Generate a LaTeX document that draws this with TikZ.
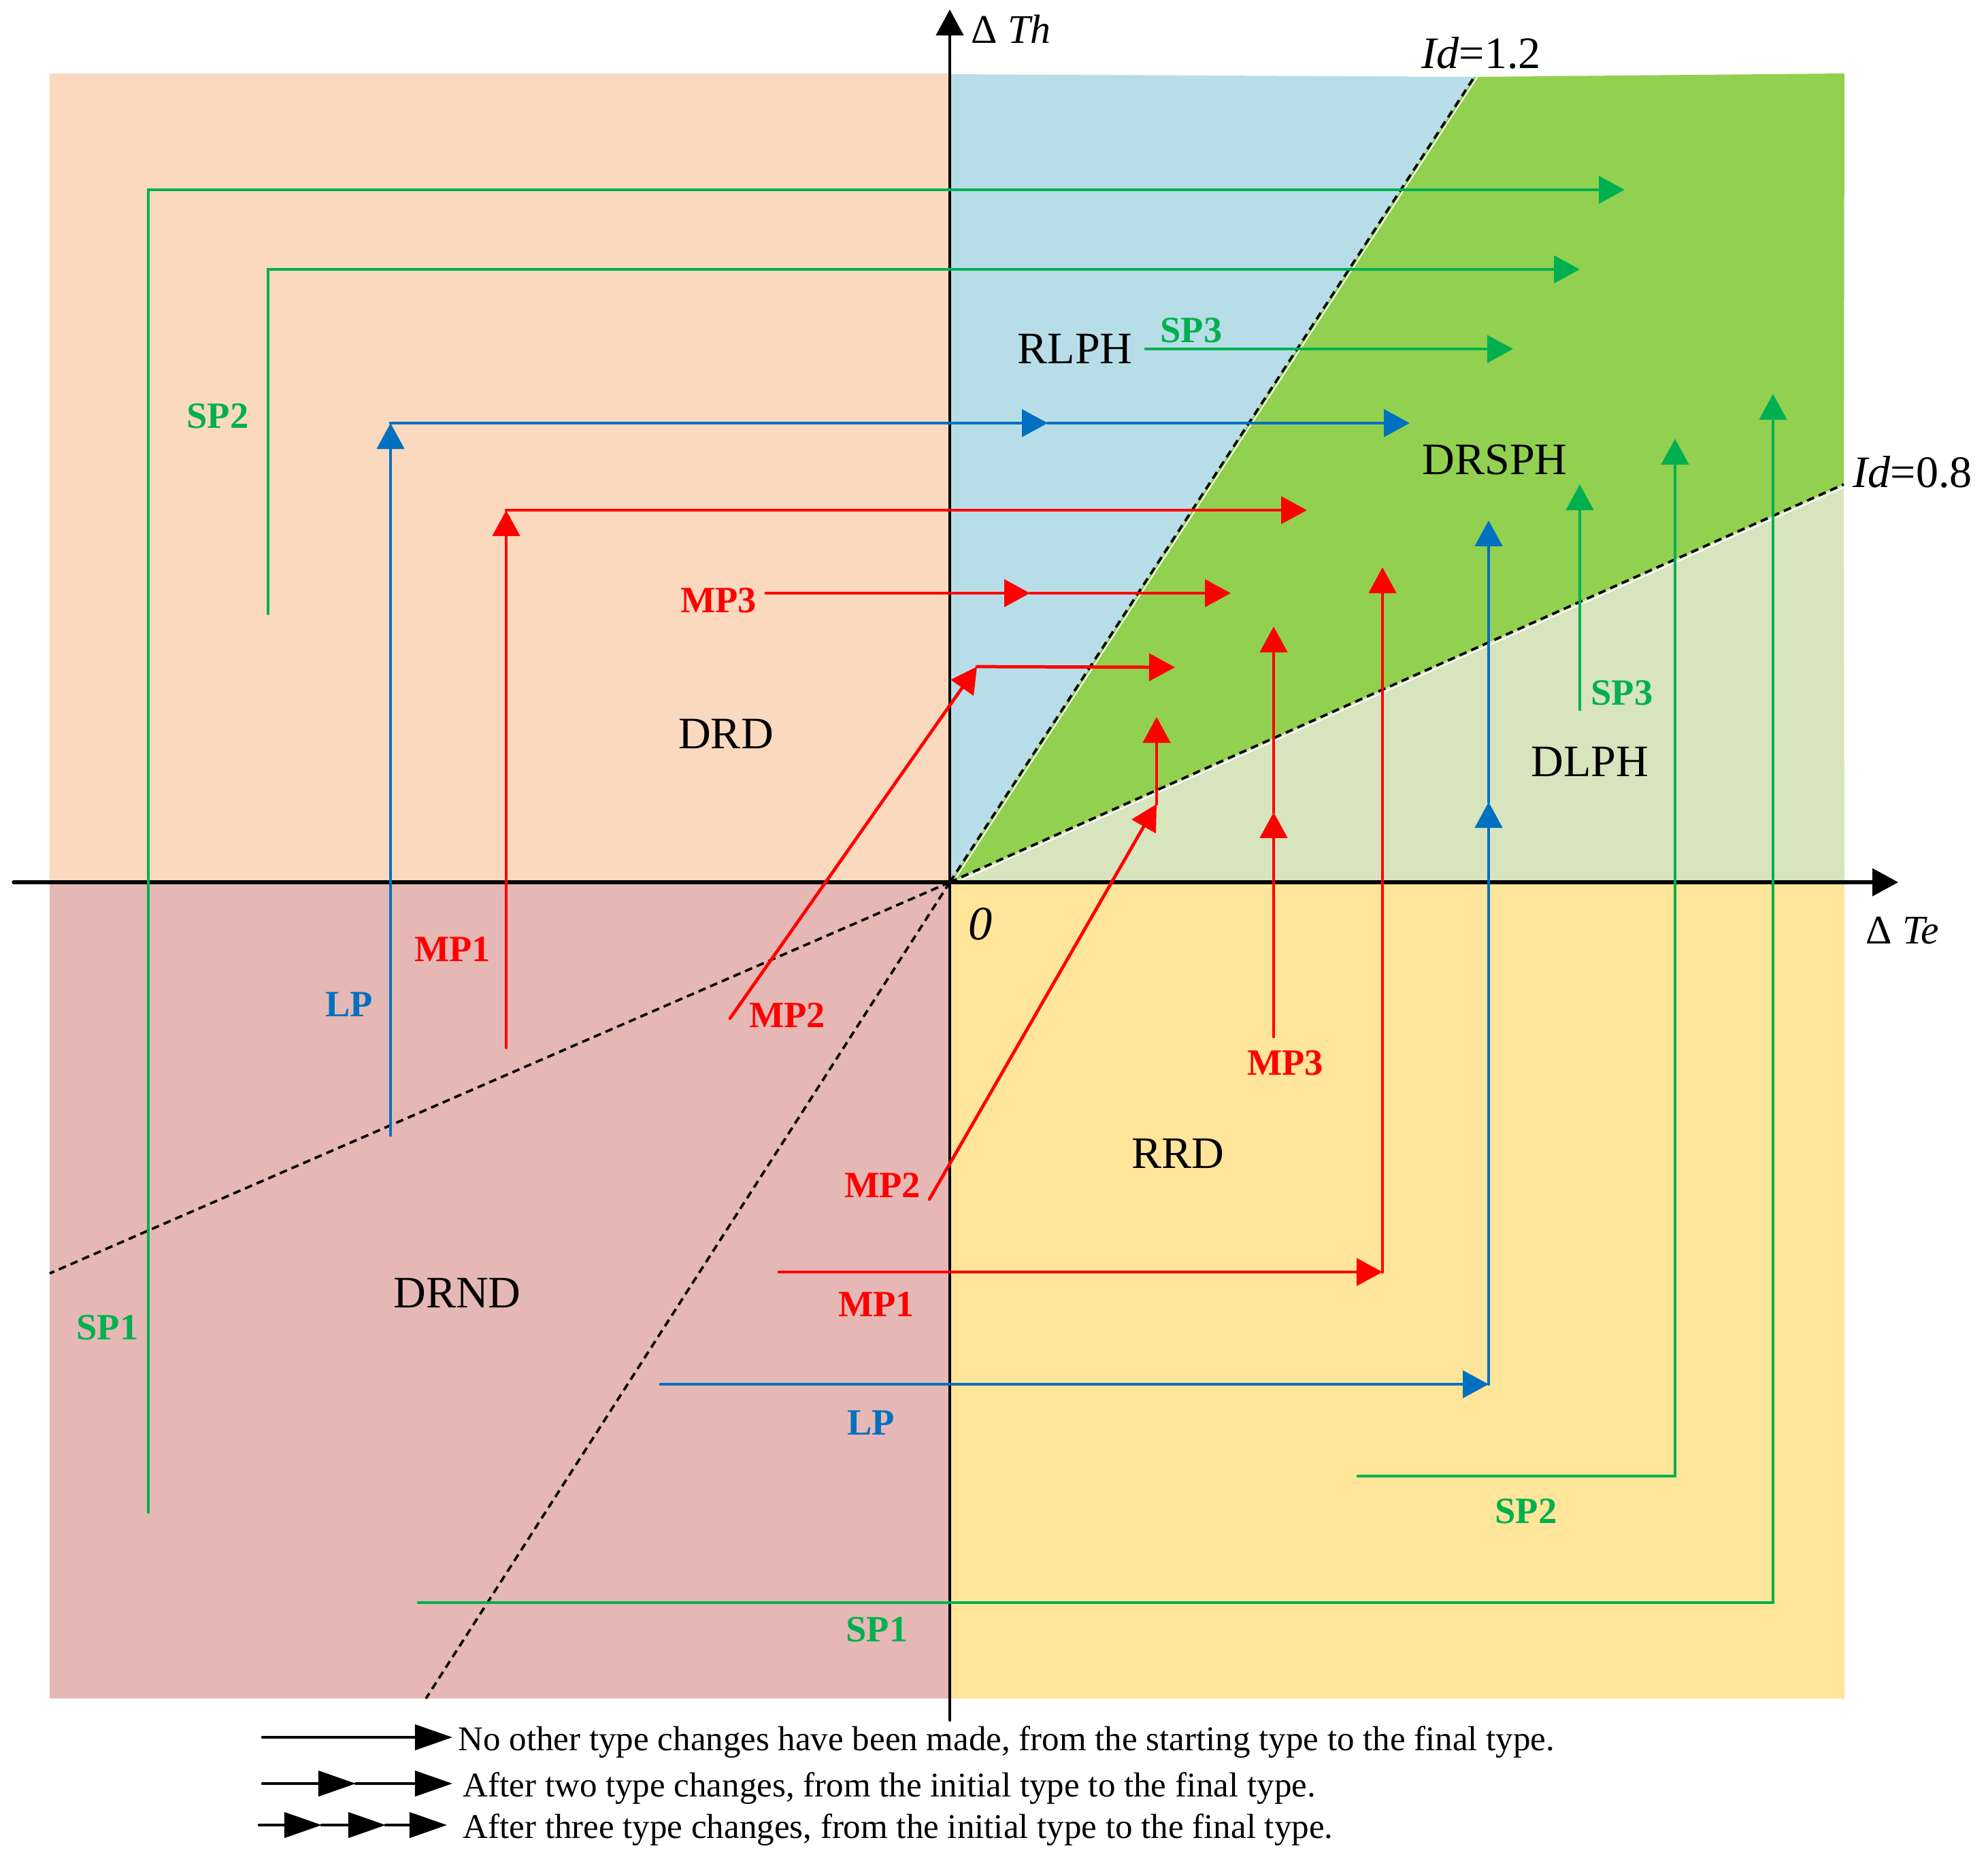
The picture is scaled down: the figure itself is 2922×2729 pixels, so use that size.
\documentclass[tikz,border=0pt]{standalone}
\usepackage{fontspec}
\setmainfont{Liberation Serif}
\usetikzlibrary{arrows.meta}

\definecolor{drdcol}{RGB}{250,217,190}
\definecolor{drndcol}{RGB}{229,184,181}
\definecolor{rrdcol}{RGB}{254,229,153}
\definecolor{rlphcol}{RGB}{183,222,232}
\definecolor{drsphcol}{RGB}{146,208,80}
\definecolor{dlphcol}{RGB}{216,228,189}
\definecolor{spcol}{RGB}{0,176,80}
\definecolor{lpcol}{RGB}{0,112,192}
\definecolor{mpcol}{RGB}{255,0,0}

\begin{document}
\begin{tikzpicture}[x=0.01cm, y=-0.01cm, line cap=round,
    >={Triangle[length=3.8mm, width=4mm]},
    sparrow/.style={draw=spcol, line width=1.35pt, ->},
    lparrow/.style={draw=lpcol, line width=1.35pt, ->},
    mparrow/.style={draw=mpcol, line width=1.35pt, ->},
    idline/.style={dash pattern=on 3.2pt off 2.1pt, line width=1.05pt, line cap=butt},
    region/.style={font=\fontsize{18.8}{22}\selectfont, inner sep=0pt},
    tag/.style={font=\fontsize{15.5}{18}\selectfont\bfseries, inner sep=0pt},
    legarrow/.style={line width=1.3pt, -{Triangle[length=5.5mm, width=3.7mm]}}]
    \useasboundingbox (0,0) rectangle (2922,2729);
    \coordinate (O) at (1396,1297);

    % quadrants
    \fill[drdcol] (73,108) rectangle (O);
    \fill[drndcol] (73,2497) rectangle (O);
    \fill[rrdcol] (2711,2497) rectangle (O);
    \fill[rlphcol] (O) -- (1396,109) -- (2167,113) -- cycle;
    \fill[drsphcol] (O) -- (2167,113) -- (2711,108) -- (2710,712) -- cycle;
    \fill[dlphcol] (O) -- (2710,712) -- (2711,1297) -- cycle;

    % Id lines
    \draw[white, line width=0.5pt] (1400,1298) -- (2171,114);
    \draw[white, line width=0.5pt] (1397,1301) -- (2711,716);
    \draw[idline] (O) -- (2167,113);
    \draw[idline] (O) -- (626,2497);
    \draw[idline] (O) -- (2710,712);
    \draw[idline] (O) -- (73,1872);

    % axes
    \draw[->, line width=1.5pt] (20,1297) -- (2790,1297);
    \draw[->, line width=1.2pt] (1396,2529) -- (1396,14);
    \node[font=\fontsize{17}{20}\selectfont, anchor=base west, inner sep=0pt] (th) at (1427,63) {Δ \textit{Th}};
    \node[font=\fontsize{17}{20}\selectfont, anchor=base west, inner sep=0pt] (te) at (2742,1387) {Δ \textit{Te}};
    \node[font=\fontsize{20}{24}\selectfont, inner sep=0pt] (zero) at (1441,1358) {\textit{0}};
    \node[region, anchor=base west] (id12) at (2089,100) {\textit{Id}=1.2};
    \node[region, anchor=base west] (id08) at (2723,716) {\textit{Id}=0.8};

    % regions
    \node[region] (drd) at (1067,1079) {DRD};
    \node[region] (rlph) at (1580,513) {RLPH};
    \node[region] (drsph) at (2197,676) {DRSPH};
    \node[region] (dlph) at (2337,1120) {DLPH};
    \node[region] (rrd) at (1731,1696) {RRD};
    \node[region] (drnd) at (672,1901) {DRND};

    % SP paths
    \draw[sparrow] (218,2223) -- (218,279) -- (2388,279);
    \draw[sparrow] (394,902) -- (394,396) -- (2322,396);
    \draw[sparrow] (1684,513) -- (2224,513);
    \draw[sparrow] (615,2356) -- (2606,2356) -- (2606,579);
    \draw[sparrow] (1996,2170) -- (2462,2170) -- (2462,645);
    \draw[sparrow] (2322,1043) -- (2322,712);

    % LP paths
    \draw[lparrow] (574,1669) -- (574,622);
    \draw[lparrow] (574,622) -- (1540,622);
    \draw[lparrow] (1540,622) -- (2072,622);
    \draw[lparrow] (971,2035) -- (2188,2035);
    \draw[lparrow] (2188,2035) -- (2188,1179);
    \draw[lparrow] (2188,1179) -- (2188,765);

    % MP paths
    \draw[mparrow] (744,1540) -- (744,750);
    \draw[mparrow] (744,750) -- (1921,750);
    \draw[mparrow] (1126,872) -- (1514,872);
    \draw[mparrow] (1514,872) -- (1809,872);
    \draw[mparrow] (1073,1497) -- (1436,980);
    \draw[mparrow] (1436,980) -- (1727,981);
    \draw[mparrow] (1366,1763) -- (1700,1182);
    \draw[mparrow] (1700,1182) -- (1700,1054);
    \draw[mparrow] (1872,1524) -- (1872,1194);
    \draw[mparrow] (1872,1194) -- (1872,921);
    \draw[mparrow] (1145,1870) -- (2032,1870);
    \draw[mparrow] (2032,1870) -- (2032,834);

    % path labels
    \node[tag, spcol] (spa) at (320,612) {SP2};
    \node[tag, spcol] (spb) at (158,1952) {SP1};
    \node[tag, spcol] (spc) at (1751,486) {SP3};
    \node[tag, spcol] (spd) at (2384,1019) {SP3};
    \node[tag, spcol] (spe) at (2243,2222) {SP2};
    \node[tag, spcol] (spf) at (1289,2396) {SP1};
    \node[tag, lpcol] (lpa) at (513,1477) {LP};
    \node[tag, lpcol] (lpb) at (1280,2092) {LP};
    \node[tag, mpcol] (mpa) at (665,1395) {MP1};
    \node[tag, mpcol] (mpb) at (1157,1492) {MP2};
    \node[tag, mpcol] (mpc) at (1297,1742) {MP2};
    \node[tag, mpcol] (mpd) at (1056,883) {MP3};
    \node[tag, mpcol] (mpe) at (1889,1563) {MP3};
    \node[tag, mpcol] (mpf) at (1288,1917) {MP1};

    % legend
    \draw[legarrow] (386,2554) -- (665,2554);
    \draw[legarrow] (386,2622) -- (523,2622);
    \draw[legarrow] (523,2622) -- (665,2622);
    \draw[legarrow] (381,2683) -- (473,2683);
    \draw[legarrow] (473,2683) -- (567,2683);
    \draw[legarrow] (567,2683) -- (657,2683);
    \begin{scope}[every node/.style={font=\fontsize{14.5}{17}\selectfont, anchor=base west, inner sep=0pt}]
        \node (lega) at (673,2573) {No other type changes have been made, from the starting type to the final type.};
        \node (legb) at (680,2641) {After two type changes, from the initial type to the final type.};
        \node (legc) at (680,2702) {After three type changes, from the initial type to the final type.};
    \end{scope}
\end{tikzpicture}
\end{document}
